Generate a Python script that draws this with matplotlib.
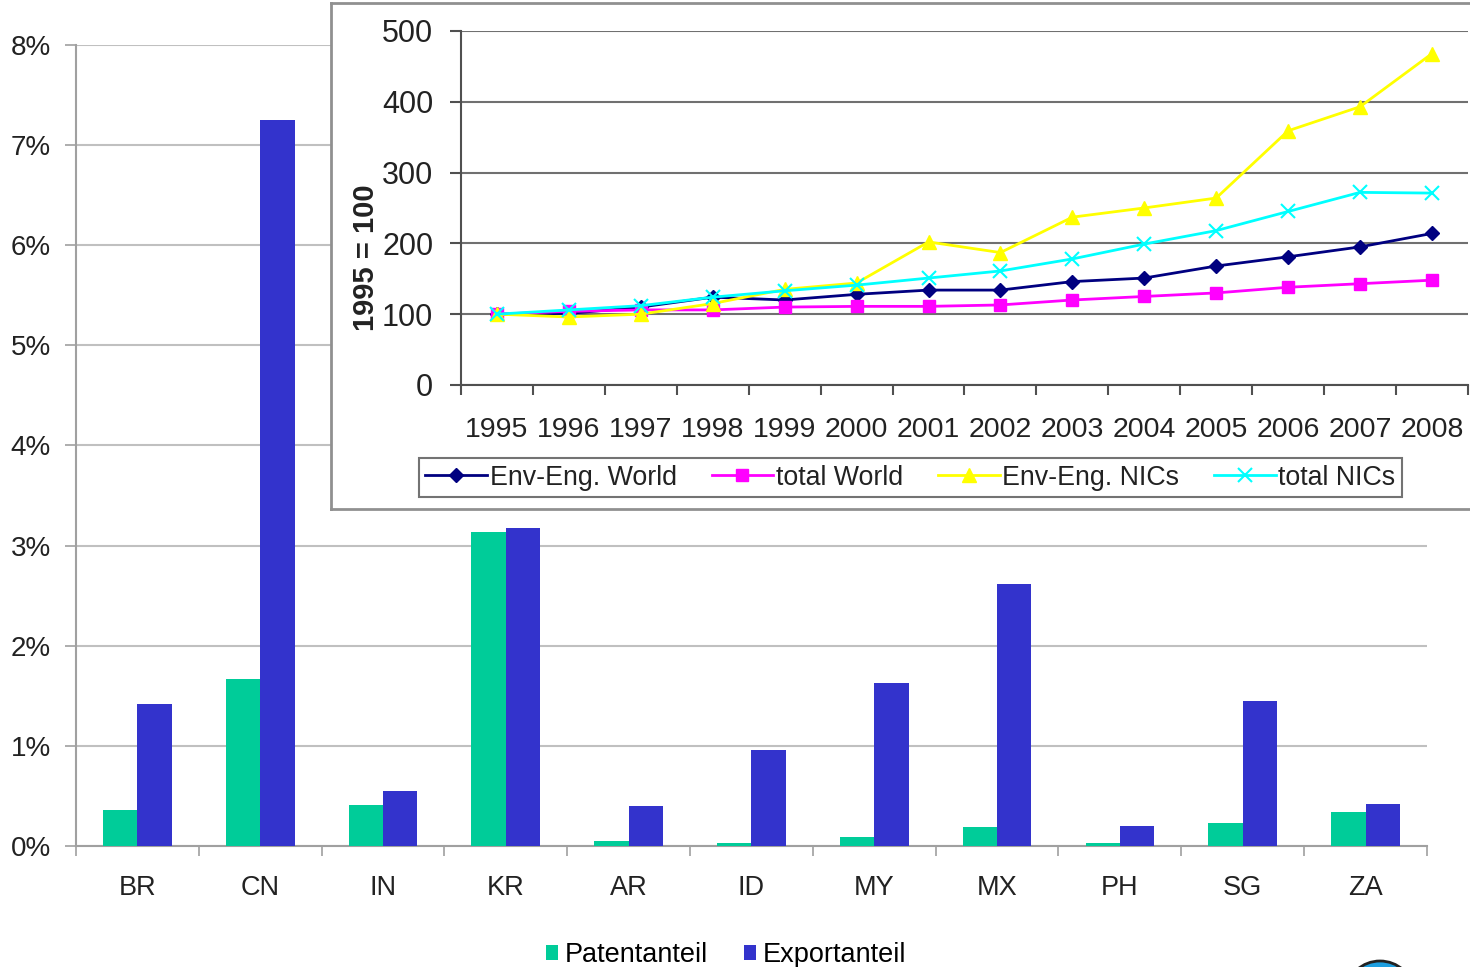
import matplotlib
matplotlib.use("Agg")
import matplotlib.pyplot as plt
from matplotlib.patches import Ellipse
import numpy as np

plt.rcParams['font.family'] = ['Liberation Sans', 'DejaVu Sans']

# --- bar chart data (share in %) ---
countries = ['BR', 'CN', 'IN', 'KR', 'AR', 'ID', 'MY', 'MX', 'PH', 'SG', 'ZA']
patent_share = [0.36, 1.67, 0.41, 3.14, 0.05, 0.03, 0.09, 0.19, 0.03, 0.23, 0.34]
export_share = [1.42, 7.25, 0.55, 3.18, 0.40, 0.96, 1.63, 2.62, 0.20, 1.45, 0.42]

# --- inset line chart data (1995 = 100) ---
years = ['1995', '1996', '1997', '1998', '1999', '2000', '2001',
         '2002', '2003', '2004', '2005', '2006', '2007', '2008']
env_world = [100, 101, 110, 124, 120, 128, 134, 134, 146, 151, 168, 181, 195, 214]
total_world = [100, 104, 106, 106, 110, 111, 111, 113, 120, 125, 130, 138, 143, 148]
env_nics = [100, 96, 100, 115, 135, 144, 202, 187, 237, 250, 264, 359, 393, 468]
total_nics = [100, 106, 112, 124, 133, 141, 151, 161, 178, 199, 218, 245, 272, 271]

green = '#00CC99'
blue = '#3333CC'
txt = '#222222'

fig = plt.figure(figsize=(14.7, 9.67), dpi=100)

# main bar chart
ax = fig.add_axes([0.0517, 0.1251, 0.919, 0.8284])
x = np.arange(len(countries))
w = 0.28
ax.bar(x - w / 2, patent_share, w, color=green, label='Patentanteil', zorder=3)
ax.bar(x + w / 2, export_share, w, color=blue, label='Exportanteil', zorder=3)
ax.set_xlim(-0.5, len(countries) - 0.5)
ax.set_ylim(0, 8)
ax.set_yticks(range(0, 9))
ax.set_yticklabels([f'{i}%' for i in range(0, 9)], fontsize=20, color=txt)
ax.set_xticks(x)
ax.set_xticklabels(countries, fontsize=19.5, color=txt)
ax.set_xticks(np.arange(-0.5, len(countries)), minor=True)
ax.tick_params(axis='x', which='major', length=0, pad=21)
ax.tick_params(axis='x', which='minor', length=7, width=1.2, color='#A0A0A0')
ax.tick_params(axis='y', length=8, width=1.2, color='#A0A0A0', pad=10)
ax.grid(axis='y', color='#C0C0C0', lw=1.5, zorder=0)
for s in ['top', 'right']:
    ax.spines[s].set_visible(False)
for s in ['left', 'bottom']:
    ax.spines[s].set_color('#A0A0A0')
    ax.spines[s].set_linewidth(1.5)

fig.legend(loc='center', bbox_to_anchor=(0.494, 0.0125), ncol=2, frameon=False,
           fontsize=19.5, handlelength=0.45, handleheight=0.45, handletextpad=0.25,
           columnspacing=1.3)

# inset frame
frame = fig.add_axes([0.2252, 0.4736, 0.78, 0.5233])
frame.set_xticks([])
frame.set_yticks([])
frame.set_facecolor('white')
for s in frame.spines.values():
    s.set_color('#909090')
    s.set_linewidth(2)

# inset line chart
ins = fig.add_axes([0.3136, 0.6019, 0.685, 0.3661])
xi = np.arange(len(years))
ins.plot(xi, env_world, color='#000080', marker='D', ms=7, lw=2, label='Env-Eng. World')
ins.plot(xi, total_world, color='#FF00FF', marker='s', ms=9, lw=2, label='total World')
ins.plot(xi, env_nics, color='#FFFF00', marker='^', ms=10, lw=2, label='Env-Eng. NICs')
ins.plot(xi, total_nics, color='#00FFFF', marker='x', ms=10, mew=1.5, lw=2, label='total NICs')
ins.set_xlim(-0.5, len(years) - 0.5)
ins.set_ylim(0, 500)
ins.set_yticks(range(0, 501, 100))
ins.set_yticklabels([str(v) for v in range(0, 501, 100)], fontsize=22, color=txt)
ins.set_xticks(xi)
ins.set_xticklabels(years, fontsize=20.5, color=txt)
ins.set_xticks(np.arange(-0.5, len(years)), minor=True)
ins.tick_params(axis='x', which='major', length=0, pad=23)
ins.tick_params(axis='x', which='minor', length=7, width=1.5, color='#505050')
ins.tick_params(axis='y', length=8, width=1.5, color='#505050', pad=12)
ins.grid(axis='y', color='#707070', lw=1.5, zorder=0)
ins.set_axisbelow(True)
ins.spines['top'].set_visible(False)
ins.spines['right'].set_visible(False)
for s in ['left', 'bottom']:
    ins.spines[s].set_color('#505050')
    ins.spines[s].set_linewidth(1.5)
ins.set_ylabel('1995 = 100', fontsize=21, fontweight='bold', color=txt)
ins.yaxis.set_label_coords(-0.08, 0.36)
leg = ins.legend(loc='center', bbox_to_anchor=(0.4464, -0.2615), ncol=4, fontsize=19.3,
                 frameon=True, fancybox=False, edgecolor='#505050', handlelength=2.3,
                 handletextpad=0.1, columnspacing=1.3, borderpad=0.25)
leg.get_frame().set_linewidth(1.5)
for t in leg.get_texts():
    t.set_color(txt)

# partial logo at the bottom right corner
fig.patches.append(Ellipse((1380 / 1470, -24 / 967), 65 / 1470, 60 / 967,
                           transform=fig.transFigure, facecolor='#1E9FE0',
                           edgecolor='#222222', lw=2))

fig.savefig('out.png', dpi=100)
